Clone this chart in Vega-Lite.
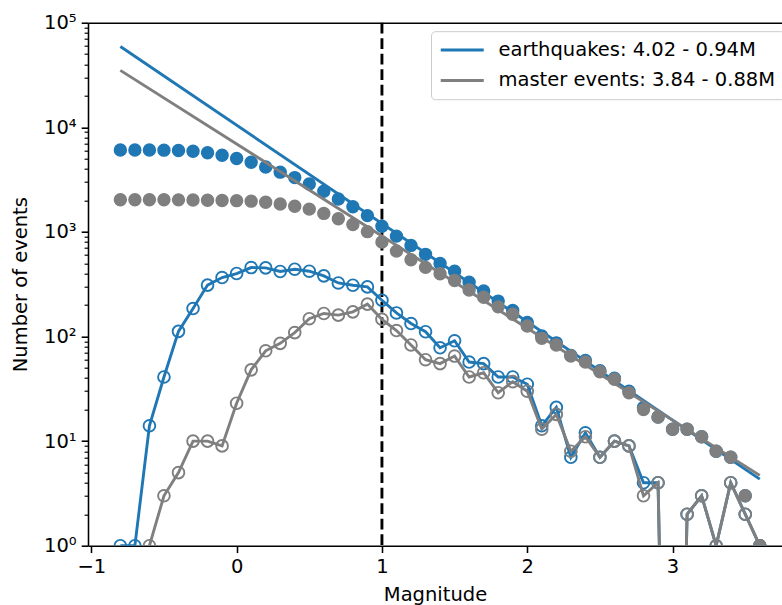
{
  "$schema": "https://vega.github.io/schema/vega-lite/v6.json",
  "width": 694,
  "height": 523,
  "autosize": {"type": "none"},
  "padding": {"left": 88, "top": 22.7, "right": 0, "bottom": 59.3},
  "config": {
    "view": {"stroke": null},
    "font": "DejaVu Sans",
    "axis": {"grid": false, "labelColor": "black", "titleColor": "black", "tickColor": "black", "domainColor": "black"}
  },
  "datasets": {
    "mc": [{"mag": 1}],
    "eq": [
      {"mag": -0.8, "cum": 6063, "n": 1},
      {"mag": -0.7, "cum": 6062, "n": 1},
      {"mag": -0.6, "cum": 6061, "n": 14},
      {"mag": -0.5, "cum": 6047, "n": 41},
      {"mag": -0.4, "cum": 6006, "n": 112},
      {"mag": -0.3, "cum": 5894, "n": 185},
      {"mag": -0.2, "cum": 5709, "n": 310},
      {"mag": -0.1, "cum": 5399, "n": 366},
      {"mag": 0.0, "cum": 5033, "n": 400},
      {"mag": 0.1, "cum": 4633, "n": 456},
      {"mag": 0.2, "cum": 4177, "n": 453},
      {"mag": 0.3, "cum": 3724, "n": 418},
      {"mag": 0.4, "cum": 3306, "n": 440},
      {"mag": 0.5, "cum": 2866, "n": 421},
      {"mag": 0.6, "cum": 2445, "n": 380},
      {"mag": 0.7, "cum": 2065, "n": 325},
      {"mag": 0.8, "cum": 1740, "n": 309},
      {"mag": 0.9, "cum": 1431, "n": 298},
      {"mag": 1.0, "cum": 1133, "n": 222},
      {"mag": 1.1, "cum": 911, "n": 168},
      {"mag": 1.2, "cum": 743, "n": 133},
      {"mag": 1.3, "cum": 610, "n": 111},
      {"mag": 1.4, "cum": 499, "n": 78},
      {"mag": 1.5, "cum": 421, "n": 91},
      {"mag": 1.6, "cum": 330, "n": 57},
      {"mag": 1.7, "cum": 273, "n": 55},
      {"mag": 1.8, "cum": 218, "n": 41},
      {"mag": 1.9, "cum": 177, "n": 41},
      {"mag": 2.0, "cum": 136, "n": 35},
      {"mag": 2.1, "cum": 101, "n": 14},
      {"mag": 2.2, "cum": 87, "n": 21},
      {"mag": 2.3, "cum": 66, "n": 7},
      {"mag": 2.4, "cum": 59, "n": 12},
      {"mag": 2.5, "cum": 47, "n": 7},
      {"mag": 2.6, "cum": 40, "n": 10},
      {"mag": 2.7, "cum": 30, "n": 9},
      {"mag": 2.8, "cum": 21, "n": 4},
      {"mag": 2.9, "cum": 17, "n": 4},
      {"mag": 3.0, "cum": 13, "n": 0.000001},
      {"mag": 3.1, "cum": 13, "n": 2},
      {"mag": 3.2, "cum": 11, "n": 3},
      {"mag": 3.3, "cum": 8, "n": 1},
      {"mag": 3.4, "cum": 7, "n": 4},
      {"mag": 3.5, "cum": 3, "n": 2},
      {"mag": 3.6, "cum": 1, "n": 1}
    ],
    "me": [
      {"mag": -0.8, "cum": 2028, "n": 0.000001},
      {"mag": -0.7, "cum": 2028, "n": 0.000001},
      {"mag": -0.6, "cum": 2028, "n": 1},
      {"mag": -0.5, "cum": 2027, "n": 3},
      {"mag": -0.4, "cum": 2024, "n": 5},
      {"mag": -0.3, "cum": 2019, "n": 10},
      {"mag": -0.2, "cum": 2009, "n": 10},
      {"mag": -0.1, "cum": 1999, "n": 9},
      {"mag": 0.0, "cum": 1990, "n": 23},
      {"mag": 0.1, "cum": 1967, "n": 48},
      {"mag": 0.2, "cum": 1919, "n": 73},
      {"mag": 0.3, "cum": 1846, "n": 86},
      {"mag": 0.4, "cum": 1760, "n": 109},
      {"mag": 0.5, "cum": 1651, "n": 148},
      {"mag": 0.6, "cum": 1503, "n": 166},
      {"mag": 0.7, "cum": 1337, "n": 160},
      {"mag": 0.8, "cum": 1177, "n": 172},
      {"mag": 0.9, "cum": 1005, "n": 204},
      {"mag": 1.0, "cum": 801, "n": 146},
      {"mag": 1.1, "cum": 655, "n": 114},
      {"mag": 1.2, "cum": 541, "n": 83},
      {"mag": 1.3, "cum": 458, "n": 60},
      {"mag": 1.4, "cum": 398, "n": 55},
      {"mag": 1.5, "cum": 343, "n": 65},
      {"mag": 1.6, "cum": 278, "n": 41},
      {"mag": 1.7, "cum": 237, "n": 45},
      {"mag": 1.8, "cum": 192, "n": 29},
      {"mag": 1.9, "cum": 163, "n": 37},
      {"mag": 2.0, "cum": 126, "n": 30},
      {"mag": 2.1, "cum": 96, "n": 13},
      {"mag": 2.2, "cum": 83, "n": 18},
      {"mag": 2.3, "cum": 65, "n": 8},
      {"mag": 2.4, "cum": 57, "n": 11},
      {"mag": 2.5, "cum": 46, "n": 7},
      {"mag": 2.6, "cum": 39, "n": 10},
      {"mag": 2.7, "cum": 29, "n": 9},
      {"mag": 2.8, "cum": 20, "n": 3},
      {"mag": 2.9, "cum": 17, "n": 4},
      {"mag": 3.0, "cum": 13, "n": 0.000001},
      {"mag": 3.1, "cum": 13, "n": 2},
      {"mag": 3.2, "cum": 11, "n": 3},
      {"mag": 3.3, "cum": 8, "n": 1},
      {"mag": 3.4, "cum": 7, "n": 4},
      {"mag": 3.5, "cum": 3, "n": 2},
      {"mag": 3.6, "cum": 1, "n": 1}
    ],
    "fitEq": [
      {"label": "earthquakes: 4.02 - 0.94M", "mag": -0.8, "N": 59156},
      {"label": "earthquakes: 4.02 - 0.94M", "mag": 3.6, "N": 4.33}
    ],
    "fitMe": [
      {"label": "master events: 3.84 - 0.88M", "mag": -0.8, "N": 34995},
      {"label": "master events: 3.84 - 0.88M", "mag": 3.6, "N": 4.70}
    ]
  },
  "layer": [
    {
      "data": {"name": "mc"},
      "mark": {"type": "rule", "color": "black", "strokeWidth": 2.9, "strokeDash": [10.8, 4.7]},
      "encoding": {
        "x": {"field": "mag", "type": "quantitative", "scale": {"domain": [-1.0227, 3.753], "nice": false, "zero": false}, "axis": null}
      }
    },
    {
      "data": {"name": "eq"},
      "mark": {"type": "point", "shape": "circle", "filled": true, "fill": "#1f77b4", "stroke": "#1f77b4", "strokeWidth": 1.4, "size": 144, "opacity": 1, "clip": true},
      "encoding": {
        "x": {"field": "mag", "type": "quantitative", "scale": {"domain": [-1.0227, 3.753], "nice": false, "zero": false},
          "axis": {"orient": "bottom", "values": [-1, 0, 1, 2, 3], "format": "d", "title": "Magnitude", "labelFlush": false, "labelOverlap": false, "tickSize": 6.8, "tickWidth": 1.56, "domainWidth": 1.56, "labelFontSize": 19.5, "labelPadding": 5, "titleFontSize": 19.5, "titleFontWeight": "normal", "titlePadding": 9}},
        "y": {"field": "cum", "type": "quantitative", "scale": {"type": "log", "domain": [1, 100000], "nice": false, "zero": false},
          "axis": {"orient": "left", "values": [1, 10, 100, 1000, 10000, 100000], "labelExpr": "datum.value == 1 ? '10⁰' : datum.value == 10 ? '10¹' : datum.value == 100 ? '10²' : datum.value == 1000 ? '10³' : datum.value == 10000 ? '10⁴' : '10⁵'", "title": "Number of events", "labelFlush": false, "labelOverlap": false, "tickSize": 6.8, "tickWidth": 1.56, "domainWidth": 1.56, "labelFontSize": 19.5, "labelPadding": 5, "titleFontSize": 19.5, "titleFontWeight": "normal", "titlePadding": 13}}
      }
    },
    {
      "data": {"name": "eq"},
      "mark": {"type": "line", "color": "#1f77b4", "strokeWidth": 2.9, "clip": true},
      "encoding": {
        "x": {"field": "mag", "type": "quantitative", "scale": {"domain": [-1.0227, 3.753], "nice": false, "zero": false},
          "axis": {"orient": "top", "labels": false, "ticks": false, "domain": true, "domainWidth": 1.56, "title": null}},
        "y": {"field": "n", "type": "quantitative", "scale": {"type": "log", "domain": [1, 100000], "nice": false, "zero": false},
          "axis": {"orient": "left", "values": [2,3,4,5,6,7,8,9,20,30,40,50,60,70,80,90,200,300,400,500,600,700,800,900,2000,3000,4000,5000,6000,7000,8000,9000,20000,30000,40000,50000,60000,70000,80000,90000], "labels": false, "domain": false, "tickSize": 3.9, "tickWidth": 1.17, "title": null}}
      }
    },
    {
      "data": {"name": "eq"},
      "mark": {"type": "point", "shape": "circle", "filled": false, "fill": null, "stroke": "#1f77b4", "strokeWidth": 1.9, "size": 137, "opacity": 1, "clip": true},
      "encoding": {
        "x": {"field": "mag", "type": "quantitative", "axis": null},
        "y": {"field": "n", "type": "quantitative", "scale": {"type": "log", "domain": [1, 100000], "nice": false, "zero": false}, "axis": null}
      }
    },
    {
      "data": {"name": "fitEq"},
      "mark": {"type": "line", "strokeWidth": 2.9, "clip": true},
      "encoding": {
        "x": {"field": "mag", "type": "quantitative", "axis": null},
        "y": {"field": "N", "type": "quantitative", "scale": {"type": "log", "domain": [1, 100000], "nice": false, "zero": false}, "axis": null},
        "color": {"field": "label", "type": "nominal",
          "scale": {"domain": ["earthquakes: 4.02 - 0.94M", "master events: 3.84 - 0.88M"], "range": ["#1f77b4", "#7f7f7f"]},
          "legend": {"orient": "none", "legendX": 343, "legendY": 8.5, "title": null, "symbolType": "M-1.286,0H4.857", "symbolSize": 196, "symbolStrokeWidth": 2.9, "symbolOpacity": 1, "labelFontSize": 19.5, "labelColor": "black", "labelLimit": 500, "labelOffset": 39, "padding": 9, "rowPadding": 9.5, "fillColor": "white", "strokeColor": "#cccccc", "cornerRadius": 4}}
      }
    },
    {
      "data": {"name": "me"},
      "mark": {"type": "point", "shape": "circle", "filled": true, "fill": "#7f7f7f", "stroke": "#7f7f7f", "strokeWidth": 1.4, "size": 144, "opacity": 1, "clip": true},
      "encoding": {
        "x": {"field": "mag", "type": "quantitative", "axis": null},
        "y": {"field": "cum", "type": "quantitative", "scale": {"type": "log", "domain": [1, 100000], "nice": false, "zero": false}, "axis": null}
      }
    },
    {
      "data": {"name": "me"},
      "mark": {"type": "line", "color": "#7f7f7f", "strokeWidth": 2.9, "clip": true},
      "encoding": {
        "x": {"field": "mag", "type": "quantitative", "axis": null},
        "y": {"field": "n", "type": "quantitative", "scale": {"type": "log", "domain": [1, 100000], "nice": false, "zero": false}, "axis": null}
      }
    },
    {
      "data": {"name": "me"},
      "mark": {"type": "point", "shape": "circle", "filled": false, "fill": null, "stroke": "#7f7f7f", "strokeWidth": 1.9, "size": 137, "opacity": 1, "clip": true},
      "encoding": {
        "x": {"field": "mag", "type": "quantitative", "axis": null},
        "y": {"field": "n", "type": "quantitative", "scale": {"type": "log", "domain": [1, 100000], "nice": false, "zero": false}, "axis": null}
      }
    },
    {
      "data": {"name": "fitMe"},
      "mark": {"type": "line", "strokeWidth": 2.9, "clip": true},
      "encoding": {
        "x": {"field": "mag", "type": "quantitative", "axis": null},
        "y": {"field": "N", "type": "quantitative", "scale": {"type": "log", "domain": [1, 100000], "nice": false, "zero": false}, "axis": null},
        "color": {"field": "label", "type": "nominal",
          "scale": {"domain": ["earthquakes: 4.02 - 0.94M", "master events: 3.84 - 0.88M"], "range": ["#1f77b4", "#7f7f7f"]},
          "legend": {"orient": "none", "legendX": 343, "legendY": 8.5, "title": null, "symbolType": "M-1.286,0H4.857", "symbolSize": 196, "symbolStrokeWidth": 2.9, "symbolOpacity": 1, "labelFontSize": 19.5, "labelColor": "black", "labelLimit": 500, "labelOffset": 39, "padding": 9, "rowPadding": 9.5, "fillColor": "white", "strokeColor": "#cccccc", "cornerRadius": 4}}
      }
    }
  ],
  "resolve": {"axis": {"x": "independent", "y": "independent"}}
}
